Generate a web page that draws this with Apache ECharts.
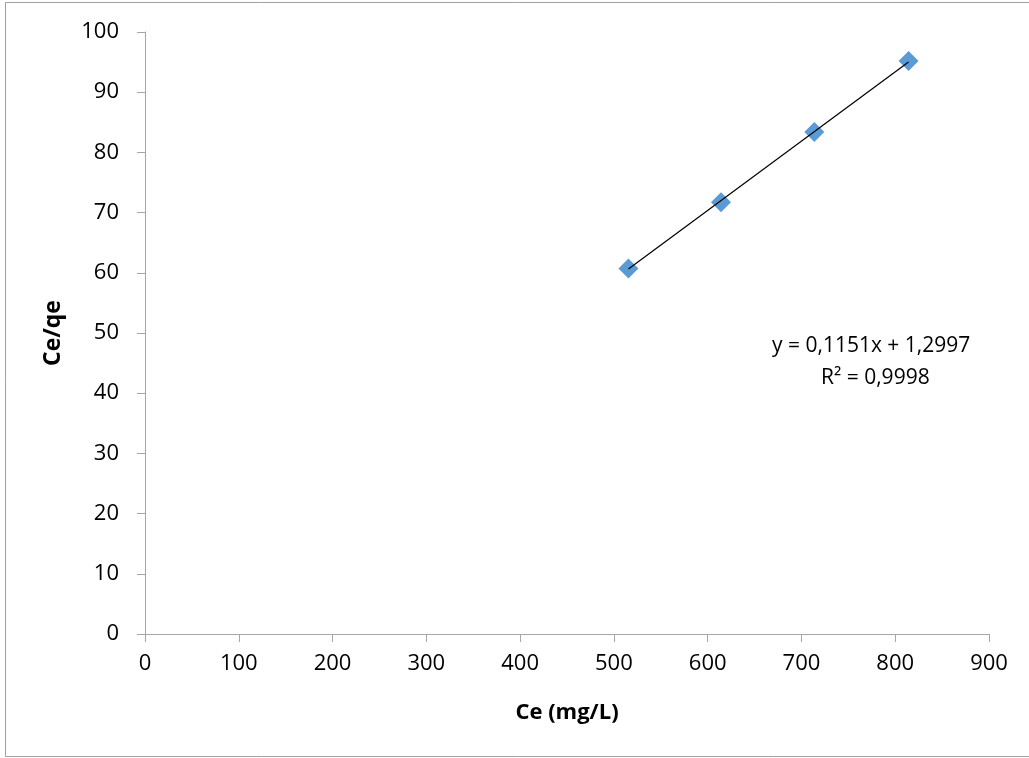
<!DOCTYPE html>
<html>
<head>
<meta charset="utf-8">
<style>
  html, body { margin: 0; padding: 0; background: #ffffff; }
  #chart { width: 1029px; height: 758px; }
</style>
<script src="https://cdn.jsdelivr.net/npm/echarts@6/dist/echarts.min.js"></script>
</head>
<body>
<div id="chart"></div>
<script>
// Langmuir linear plot: Ce versus Ce/qe
const ceValues = [515.5, 614.2, 713.7, 814.2];   // Ce (mg/L)
const ceQeValues = [60.7, 71.7, 83.4, 95.2];     // Ce/qe
const fitCoeffs = [0.1151, 1.2997];              // slope, intercept
const fitR2 = 0.9998;
const xTicks = [0, 100, 200, 300, 400, 500, 600, 700, 800, 900];
const yTicks = [0, 10, 20, 30, 40, 50, 60, 70, 80, 90, 100];

const FONT = '"Open Sans", "Liberation Sans", sans-serif';
const fmt = v => String(v).replace('.', ',');

// trend line across the range of the measured points
const xMin = Math.min(...ceValues), xMax = Math.max(...ceValues);
const fitLine = [xMin, xMax].map(x => [x, fitCoeffs[0] * x + fitCoeffs[1]]);

const chart = echarts.init(document.getElementById('chart'), null, { renderer: 'canvas' });

const axisColor = '#a6a6a6';

chart.setOption({
  backgroundColor: '#ffffff',
  animation: false,
  grid: { left: 145, right: 40, top: 32, bottom: 124, containLabel: false },
  xAxis: {
    type: 'value',
    min: xTicks[0], max: xTicks[xTicks.length - 1], interval: 100,
    name: 'Ce (mg/L)', nameLocation: 'middle', nameGap: 68,
    nameTextStyle: { fontFamily: FONT, fontSize: 22, fontWeight: 'bold', color: '#000' },
    axisLine: { show: true, onZero: false, lineStyle: { color: axisColor, width: 1 } },
    axisTick: { show: true, inside: false, length: 8, lineStyle: { color: axisColor } },
    axisLabel: { margin: 19, fontFamily: FONT, fontSize: 22, color: '#000' },
    splitLine: { show: false }
  },
  yAxis: {
    type: 'value',
    min: yTicks[0], max: yTicks[yTicks.length - 1], interval: 10,
    name: 'Ce/qe', nameLocation: 'middle', nameGap: 80, nameRotate: 90,
    nameTextStyle: { fontFamily: FONT, fontSize: 23, fontWeight: 'bold', color: '#000' },
    axisLine: { show: true, onZero: false, lineStyle: { color: axisColor, width: 1 } },
    axisTick: { show: true, inside: false, length: 8, lineStyle: { color: axisColor } },
    axisLabel: { margin: 26, fontFamily: FONT, fontSize: 22, color: '#000' },
    splitLine: { show: false }
  },
  graphic: [
    {
      type: 'rect', silent: true, z: -10,
      shape: { x: 5.5, y: 2.5, width: 1040, height: 754 },
      style: { fill: 'none', stroke: '#a0a0a0', lineWidth: 1 }
    },
    {
      type: 'text', left: 772, top: 336, silent: true,
      style: {
        text: 'y = ' + fmt(fitCoeffs[0]) + 'x + ' + fmt(fitCoeffs[1]),
        font: '21px ' + FONT, fill: '#000'
      }
    },
    {
      type: 'text', left: 821, top: 368, silent: true,
      style: {
        text: 'R² = ' + fmt(fitR2),
        font: '21px ' + FONT, fill: '#000'
      }
    }
  ],
  series: [
    {
      type: 'line',
      data: fitLine,
      showSymbol: false,
      lineStyle: { color: '#000000', width: 1.2 },
      z: 3
    },
    {
      type: 'scatter',
      data: ceValues.map((x, i) => [x, ceQeValues[i]]),
      symbol: 'diamond',
      symbolSize: [20, 20],
      itemStyle: { color: '#5b9bd5', opacity: 1 },
      z: 2
    }
  ]
});
</script>
</body>
</html>
